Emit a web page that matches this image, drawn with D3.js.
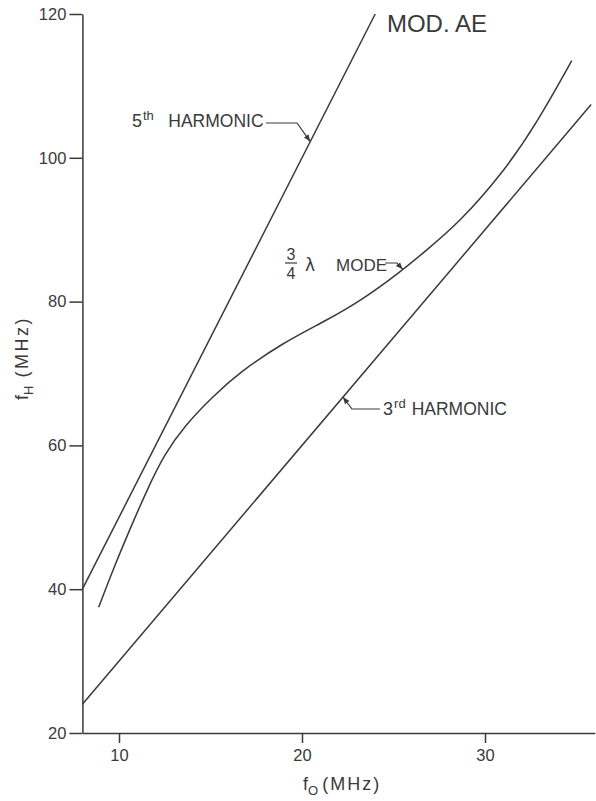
<!DOCTYPE html>
<html><head><meta charset="utf-8">
<script src="https://cdn.jsdelivr.net/npm/d3@7"></script>
<style>
html,body{margin:0;padding:0;background:#fff;}
svg{display:block;}
text{font-family:"Liberation Sans",Arial,sans-serif;fill:#3a3a3a;}
</style></head>
<body>
<svg id="chart" width="596" height="801"></svg>
<script>
// ---- data ----
const xTicks = [10, 20, 30];
const yTicks = [20, 40, 60, 80, 100, 120];
const harm5X = [8, 24];
const harm5Y = [40, 120];
const harm3X = [8, 35.8];
const harm3Y = [24, 107.4];
const modeX = [8.89, 9.67, 10.57, 11.53, 12.46, 13.61, 15.08, 16.61, 18.91, 21.35, 23.26, 25.36, 26.83, 28.63, 30.98, 32.83, 34.74];
const modeY = [37.5, 42.7, 48.2, 53.8, 58.7, 62.8, 66.7, 70.2, 74.2, 77.4, 80.2, 84.1, 87.2, 91.1, 97.9, 104.8, 113.5];

const ink = "#3a3a3a";
const svg = d3.select("#chart");
const x = d3.scaleLinear().domain([8, 36]).range([82.4, 594.8]);
const y = d3.scaleLinear().domain([20, 120]).range([733, 14]);

// axes
const gx = svg.append("g").attr("transform", `translate(0,${y(20)})`)
  .call(d3.axisBottom(x).tickValues(xTicks).tickSize(10).tickSizeOuter(0).tickPadding(6).tickFormat(d3.format("d")));
const gy = svg.append("g").attr("transform", `translate(${x(8)},0)`)
  .call(d3.axisLeft(y).tickValues(yTicks).tickSize(13).tickSizeOuter(0).tickPadding(3).tickFormat(d3.format("d")));
[gx, gy].forEach(g => {
  g.selectAll("path,line").attr("stroke", ink).attr("stroke-width", 1.5);
  g.selectAll("text").attr("fill", ink).style("font-size", "16.5px")
    .style("font-family", '"Liberation Sans",Arial,sans-serif');
});

// series
const line = d3.line().x(d => x(d[0])).y(d => y(d[1]));
const toPts = (xs, ys) => xs.map((v, i) => [v, ys[i]]);
svg.append("path").attr("d", line(toPts(harm5X, harm5Y)))
  .attr("fill", "none").attr("stroke", ink).attr("stroke-width", 1.5);
svg.append("path").attr("d", line(toPts(harm3X, harm3Y)))
  .attr("fill", "none").attr("stroke", ink).attr("stroke-width", 1.5);
svg.append("path").attr("d", d3.line().x(d => x(d[0])).y(d => y(d[1])).curve(d3.curveBasis)(toPts(modeX, modeY)))
  .attr("fill", "none").attr("stroke", ink).attr("stroke-width", 1.5);

// arrow marker
svg.append("defs").append("marker").attr("id", "arr")
  .attr("viewBox", "0 0 10 10").attr("refX", 10).attr("refY", 5)
  .attr("markerWidth", 7).attr("markerHeight", 7).attr("markerUnits", "userSpaceOnUse")
  .attr("orient", "auto")
  .append("path").attr("d", "M0,1 L10,5 L0,9 Z").attr("fill", ink);

const leader = pts => svg.append("path")
  .attr("d", d3.line().x(d => x(d[0])).y(d => y(d[1]))(pts))
  .attr("fill", "none").attr("stroke", ink).attr("stroke-width", 1.2)
  .attr("marker-end", "url(#arr)");

// 5th harmonic label
const t5 = svg.append("text").attr("x", x(10.71)).attr("y", y(104.28)).style("font-size", "18px");
t5.append("tspan").text("5");
t5.append("tspan").attr("dy", -7).attr("dx", 1).style("font-size", "13px").text("th");
t5.append("tspan").attr("x", x(17.9)).attr("dy", 7).attr("text-anchor", "end").style("font-size", "17.5px").text("HARMONIC");
leader([[18.03, 104.84], [19.73, 104.84], [20.45, 102.25]]);

// 3rd harmonic label
const t3 = svg.append("text").attr("x", x(24.43)).attr("y", y(64.23)).style("font-size", "18px");
t3.append("tspan").text("3");
t3.append("tspan").attr("dy", -7).attr("dx", 1).style("font-size", "13px").text("rd");
t3.append("tspan").attr("dy", 7).attr("dx", 6).style("font-size", "17.5px").text("HARMONIC");
leader([[24.26, 65.06], [22.73, 65.06], [22.24, 66.72]]);

// 3/4 lambda mode label
const fx = x(19.4), fy = y(85.37);
svg.append("text").attr("x", fx).attr("y", fy - 2.5).attr("text-anchor", "middle").style("font-size", "16px").text("3");
svg.append("line").attr("x1", fx - 6).attr("x2", fx + 6).attr("y1", fy).attr("y2", fy).attr("stroke", ink).attr("stroke-width", 1.2);
svg.append("text").attr("x", fx).attr("y", fy + 16.5).attr("text-anchor", "middle").style("font-size", "16px").text("4");
svg.append("text").attr("x", x(20.16)).attr("y", y(84.26))
  .style("font-family", '"DejaVu Sans",sans-serif').style("font-size", "17px").text("λ");
svg.append("text").attr("x", x(21.86)).attr("y", y(84.26)).style("font-size", "17px").text("MODE");
leader([[24.54, 85.37], [25.19, 85.37], [25.5, 84.5]]);

// title
svg.append("text").attr("x", x(24.64)).attr("y", y(117.5)).style("font-size", "24px").text("MOD. AE");

// axis titles
const xt = svg.append("text").attr("x", 303).attr("y", 790).style("font-size", "18px");
xt.append("tspan").text("f");
xt.append("tspan").attr("dy", 5).style("font-size", "13px").text("O");
xt.append("tspan").attr("dy", -5).attr("dx", 4).style("letter-spacing", "2px").text("(MHz)");

const yt = svg.append("text").attr("transform", "translate(28,400) rotate(-90)").style("font-size", "18px");
yt.append("tspan").text("f");
yt.append("tspan").attr("dy", 5).style("font-size", "13px").text("H");
yt.append("tspan").attr("dy", -5).attr("dx", 8).style("letter-spacing", "2.5px").text("(MHz)");
</script>
</body></html>
